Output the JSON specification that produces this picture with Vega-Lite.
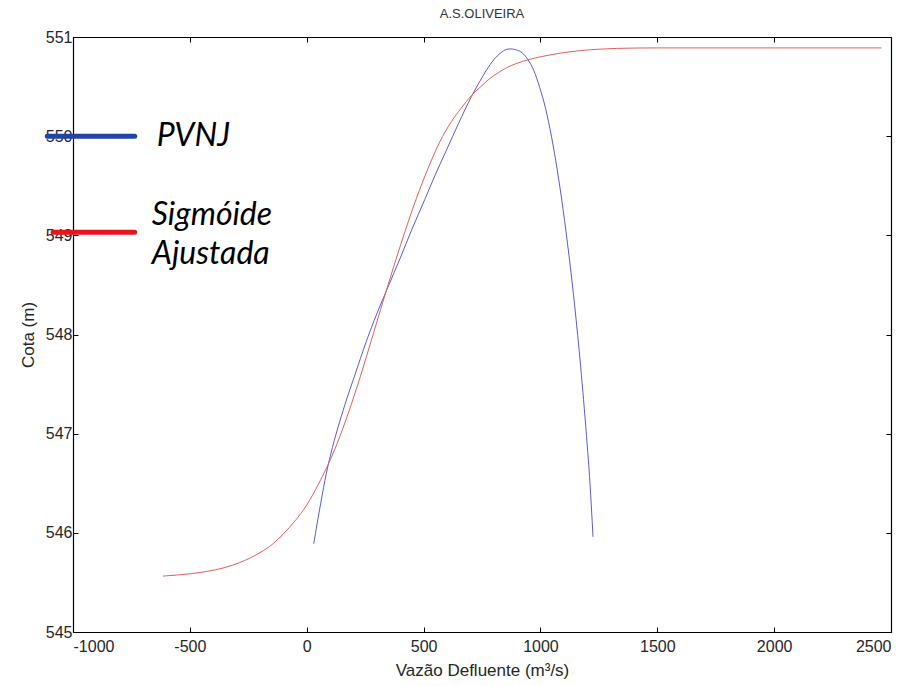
{
  "$schema": "https://vega.github.io/schema/vega-lite/v6.json",
  "width": 818,
  "height": 595,
  "autosize": {"type": "none"},
  "padding": {"left": 73, "top": 37, "right": 24, "bottom": 54},
  "background": "white",
  "config": {
    "view": {"stroke": null},
    "axis": {
      "labelFont": "Liberation Sans",
      "titleFont": "Liberation Sans",
      "labelFontSize": 16,
      "titleFontSize": 17,
      "titleFontWeight": "normal",
      "labelColor": "#262626",
      "titleColor": "#262626",
      "domainColor": "#000000",
      "domainWidth": 1.2,
      "tickColor": "#000000",
      "grid": false
    }
  },
  "title": {
    "text": "A.S.OLIVEIRA",
    "font": "Liberation Sans",
    "fontSize": 13,
    "fontWeight": "normal",
    "color": "#333333",
    "offset": 8
  },
  "resolve": {"axis": {"x": "independent", "y": "independent"}},
  "layer": [
    {
      "data": {"values": [
        {"q": 30, "h": 545.89}, {"q": 45, "h": 546.1}, {"q": 60, "h": 546.3}, {"q": 84, "h": 546.6},
        {"q": 110, "h": 546.86}, {"q": 141, "h": 547.12}, {"q": 170, "h": 547.34}, {"q": 200, "h": 547.55},
        {"q": 230, "h": 547.76}, {"q": 255, "h": 547.93}, {"q": 300, "h": 548.21}, {"q": 348, "h": 548.48},
        {"q": 400, "h": 548.77}, {"q": 450, "h": 549.06}, {"q": 505, "h": 549.36}, {"q": 550, "h": 549.61},
        {"q": 598, "h": 549.86}, {"q": 650, "h": 550.13}, {"q": 705, "h": 550.4}, {"q": 740, "h": 550.55},
        {"q": 770, "h": 550.67}, {"q": 800, "h": 550.77}, {"q": 830, "h": 550.84}, {"q": 855, "h": 550.875},
        {"q": 872, "h": 550.88}, {"q": 897, "h": 550.87}, {"q": 922, "h": 550.84}, {"q": 947, "h": 550.77},
        {"q": 972, "h": 550.66}, {"q": 997, "h": 550.49}, {"q": 1022, "h": 550.28}, {"q": 1047, "h": 550.0},
        {"q": 1072, "h": 549.66}, {"q": 1097, "h": 549.26}, {"q": 1122, "h": 548.8}, {"q": 1147, "h": 548.28},
        {"q": 1172, "h": 547.68}, {"q": 1197, "h": 546.98}, {"q": 1212, "h": 546.5}, {"q": 1225, "h": 545.96}
      ]},
      "mark": {"type": "line", "color": "#5b5bd6", "strokeWidth": 1, "interpolate": "monotone"},
      "encoding": {
        "x": {"field": "q", "type": "quantitative", "scale": {"domain": [-1000, 2500], "nice": false, "zero": false},
          "axis": {"orient": "bottom", "title": "Vazão Defluente (m³/s)", "values": [-1000, -500, 0, 500, 1000, 1500, 2000, 2500],
            "labelExpr": "toString(datum.value)", "tickSize": -5, "labelPadding": 11, "titlePadding": 8}},
        "y": {"field": "h", "type": "quantitative", "scale": {"domain": [545, 551], "nice": false, "zero": false},
          "axis": {"orient": "left", "title": "Cota (m)", "values": [545, 546, 547, 548, 549, 550, 551],
            "labelExpr": "toString(datum.value)", "tickSize": -5, "labelPadding": 6, "titlePadding": 8}}
      }
    },
    {
      "data": {"values": [
        {"q": -615, "h": 545.564}, {"q": -500, "h": 545.587}, {"q": -429, "h": 545.61}, {"q": -350, "h": 545.65},
        {"q": -287, "h": 545.7}, {"q": -200, "h": 545.8}, {"q": -144, "h": 545.89}, {"q": -100, "h": 545.99},
        {"q": -50, "h": 546.12}, {"q": 0, "h": 546.28}, {"q": 50, "h": 546.49}, {"q": 84, "h": 546.65},
        {"q": 130, "h": 546.9}, {"q": 177, "h": 547.2}, {"q": 230, "h": 547.58}, {"q": 284, "h": 548.0},
        {"q": 348, "h": 548.5}, {"q": 400, "h": 548.89}, {"q": 469, "h": 549.37}, {"q": 520, "h": 549.68},
        {"q": 569, "h": 549.94}, {"q": 620, "h": 550.15}, {"q": 660, "h": 550.28}, {"q": 705, "h": 550.41},
        {"q": 745, "h": 550.5}, {"q": 783, "h": 550.58}, {"q": 820, "h": 550.64},
        {"q": 855, "h": 550.69}, {"q": 900, "h": 550.735}, {"q": 947, "h": 550.77}, {"q": 1010, "h": 550.805},
        {"q": 1080, "h": 550.835}, {"q": 1168, "h": 550.862},
        {"q": 1250, "h": 550.877}, {"q": 1325, "h": 550.885}, {"q": 1500, "h": 550.89}, {"q": 2000, "h": 550.89}, {"q": 2459, "h": 550.89}
      ]},
      "mark": {"type": "line", "color": "#e0605a", "strokeWidth": 1, "interpolate": "monotone"},
      "encoding": {
        "x": {"field": "q", "type": "quantitative",
          "axis": {"orient": "top", "title": null, "labels": false, "values": [-1000, -500, 0, 500, 1000, 1500, 2000, 2500], "tickSize": -5}},
        "y": {"field": "h", "type": "quantitative",
          "axis": {"orient": "right", "title": null, "labels": false, "values": [545, 546, 547, 548, 549, 550, 551], "tickSize": -5}}
      }
    },
    {
      "data": {"values": [
        {"q": -1110, "h": 550.0, "s": "PVNJ"}, {"q": -736, "h": 550.0, "s": "PVNJ"}
      ]},
      "mark": {"type": "line", "color": "#1f45a8", "strokeWidth": 5, "strokeCap": "round"},
      "encoding": {
        "x": {"field": "q", "type": "quantitative", "axis": null},
        "y": {"field": "h", "type": "quantitative", "axis": null}
      }
    },
    {
      "data": {"values": [
        {"q": -1085, "h": 549.03, "s": "Sig"}, {"q": -736, "h": 549.03, "s": "Sig"}
      ]},
      "mark": {"type": "line", "color": "#e8141c", "strokeWidth": 5, "strokeCap": "round"},
      "encoding": {
        "x": {"field": "q", "type": "quantitative", "axis": null},
        "y": {"field": "h", "type": "quantitative", "axis": null}
      }
    },
    {
      "data": {"values": [
        {"q": -642, "h": 550.0, "t": "PVNJ"},
        {"q": -663, "h": 549.21, "t": "Sigmóide"},
        {"q": -663, "h": 548.81, "t": "Ajustada"}
      ]},
      "mark": {"type": "text", "align": "left", "baseline": "middle", "font": "Lato", "fontStyle": "italic", "fontSize": 32, "color": "#000000"},
      "encoding": {
        "x": {"field": "q", "type": "quantitative", "axis": null},
        "y": {"field": "h", "type": "quantitative", "axis": null},
        "text": {"field": "t"}
      }
    }
  ]
}
